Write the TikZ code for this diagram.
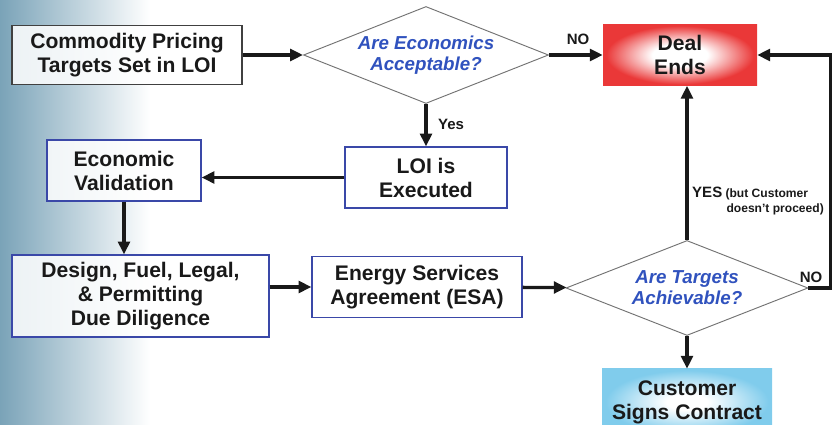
\documentclass[tikz,border=0pt]{standalone}
\usepackage{fontspec}
\setmainfont{Liberation Sans}
\usetikzlibrary{arrows.meta, shapes.geometric}

\definecolor{bgblue}{RGB}{122,163,184}
\definecolor{boxblue}{RGB}{58,72,168}
\definecolor{askblue}{RGB}{48,82,190}
\definecolor{dealred}{RGB}{234,56,56}
\definecolor{signblue}{RGB}{128,204,236}
\definecolor{ink}{RGB}{25,25,25}

\pgfdeclareradialshading{dealfade}{\pgfpoint{0bp}{0bp}}{color(0bp)=(white); color(9bp)=(white); color(24bp)=(dealred); color(50bp)=(dealred)}
\pgfdeclareradialshading{signfade}{\pgfpoint{0bp}{0bp}}{color(0bp)=(white); color(6bp)=(white); color(24bp)=(signblue); color(50bp)=(signblue)}

\newcommand{\flowtext}{\fontsize{18}{20.5}\selectfont\bfseries}
\newcommand{\asktext}{\fontsize{16}{18}\selectfont\bfseries\itshape}
\newcommand{\tagtext}{\fontsize{12.8}{14}\selectfont\bfseries}
\newcommand{\smalltag}{\fontsize{10.3}{12.8}\selectfont\bfseries}

\begin{document}
\begin{tikzpicture}[x=0.3mm, y=0.3mm, >={Triangle[length=11pt,width=10pt]},
  stage/.style={draw=boxblue, line width=0.9pt, fill=white, fill opacity=0.85, text opacity=1,
    text=ink, align=center, font=\flowtext, inner sep=0pt},
  firstbox/.style={stage, draw=black!75},
  ask/.style={diamond, aspect=2.5, draw=black!55, line width=0.8pt, fill=white, text=askblue,
    align=center, font=\asktext, inner sep=0pt},
  ending/.style={shading=dealfade, text=ink, align=center, font=\flowtext, inner sep=0pt},
  signing/.style={shading=signfade, text=ink, align=center, font=\flowtext, inner sep=0pt},
  flow/.style={->, draw=ink, line width=2.8pt},
  tag/.style={text=ink, font=\tagtext, inner sep=0pt}]
\useasboundingbox (0,0) rectangle (837,425);
\shade[left color=bgblue, right color=white] (0,0) rectangle (150,425);
%
\node[firstbox, minimum width=69mm, minimum height=17.7mm](pricing) at (127,370) {Commodity Pricing\\Targets Set in LOI};
\node[ask, minimum width=73.5mm, minimum height=29.1mm](econq) at (426,370) {Are Economics\\Acceptable?};
\node[ending, minimum width=46.2mm, minimum height=18.3mm](deal) at (680,370) {Deal\\Ends};
\draw[flow](pricing) -- (econq);
\draw[flow](econq) -- (deal);
\node[tag](nolbl) at (578,386) {NO};
%
\node[stage, minimum width=48.6mm, minimum height=18.3mm](loi) at (426,247.5) {LOI is\\Executed};
\draw[flow](econq) -- (loi);
\node[tag](yeslbl) at (451,301) {Yes};
%
\node[stage, minimum width=46.2mm, minimum height=18.3mm](econval) at (124,254.5) {Economic\\Validation};
\draw[flow](loi.west) -- (loi.west -| econval.east);
%
\node[stage, minimum width=77.1mm, minimum height=24.6mm](diligence) at (140.5,129) {Design, Fuel, Legal,\\\& Permitting\\Due Diligence};
\draw[flow](econval.south) -- (econval.south |- diligence.north);
%
\node[stage, minimum width=63mm, minimum height=18.3mm](esa) at (417,138) {Energy Services\\Agreement (ESA)};
\draw[flow](esa.west -| diligence.east) -- (esa.west);
%
\node[ask, minimum width=72.6mm, minimum height=28.5mm](targetq) at (687,137) {Are Targets\\Achievable?};
\draw[flow](esa) -- (targetq);
%
\node[signing, minimum width=51mm, minimum height=19.8mm](signs) at (687,23) {Customer\\Signs Contract};
\draw[flow](targetq) -- (signs);
%
\draw[flow](targetq.north) -- (targetq.north |- deal.south);
\node[tag, anchor=base west, align=left, font=\smalltag](proceed) at (692,212) {{\tagtext YES} (but Customer\\\hspace*{10.3mm}doesn't proceed)};
%
\draw[flow](targetq.east) -- ++(22,0) |- (deal.east);
\node[tag](nolbl2) at (811,147.5) {NO};
\end{tikzpicture}
\end{document}
